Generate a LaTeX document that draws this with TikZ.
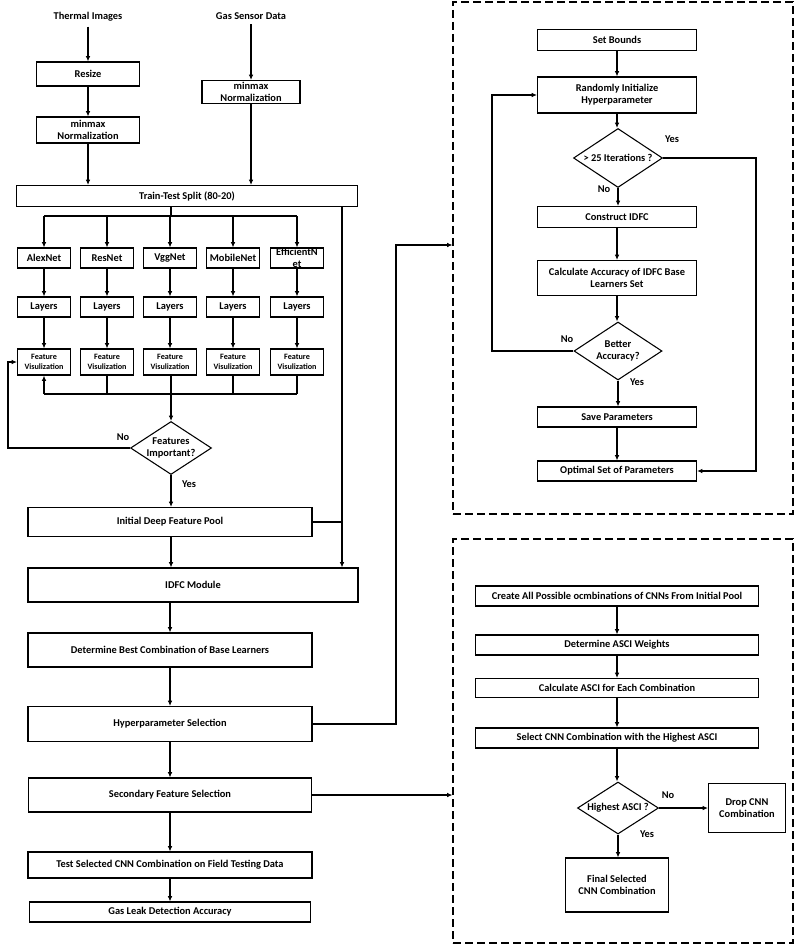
\documentclass[tikz,border=0pt]{standalone}
\usepackage{fontspec}
\setmainfont{Carlito}
\usepackage{tikz}
\usetikzlibrary{shapes,arrows.meta,positioning,calc}

\tikzset{
  box/.style={draw, line width=0.8pt, align=center, inner sep=1pt,
    font=\bfseries\fontsize{7.8}{9}\selectfont},
  smallbox/.style={box, font=\bfseries\fontsize{6.1}{7.2}\selectfont},
  decision/.style={draw, diamond, aspect=1.5, line width=0.8pt, align=center,
    inner sep=0pt, font=\bfseries\fontsize{7.8}{9}\selectfont},
  lbl/.style={font=\bfseries\fontsize{7.8}{9}\selectfont},
  arr/.style={-{Latex[length=4pt,width=3.5pt]}},
  frame/.style={draw, line width=0.8pt, dash pattern=on 6pt off 3pt},
}

\begin{document}
\begin{tikzpicture}[x=0.75pt, y=-0.75pt, line width=0.8pt]
  \useasboundingbox (0,0) rectangle (796,945);

  % Inputs and preprocessing
  \node[lbl] (thermal) at (88,17) {Thermal Images};
  \node[lbl] (gas) at (251,16) {Gas Sensor Data};
  \node[box, minimum width=77.25pt, minimum height=18pt] (resize) at (88,74) {Resize};
  \node[box, minimum width=77.25pt, minimum height=19.5pt] (normL) at (88,130) {minmax\\Normalization};
  \node[box, minimum width=73.5pt, minimum height=17.25pt] (normR) at (251,92) {minmax\\Normalization};
  \node[box, minimum width=255.75pt, minimum height=15.75pt] (split) at (187,196) {Train-Test Split (80-20)};

  % CNN columns
  \node[box, minimum width=39.75pt, minimum height=15pt] (alex) at (44,258) {AlexNet};
  \node[box, minimum width=39.75pt, minimum height=15pt] (res) at (107,258) {ResNet};
  \node[box, minimum width=39.75pt, minimum height=15pt] (vgg) at (170,258) {VggNet};
  \node[box, minimum width=39.75pt, minimum height=15pt] (mobile) at (233,258) {MobileNet};
  \node[box, minimum width=39.75pt, minimum height=15pt, inner sep=0pt,
    font=\bfseries\fontsize{7.8}{8.6}\selectfont] (eff) at (297,258) {EfficientN\\et};

  \node[box, minimum width=39.75pt, minimum height=15pt] (layA) at (44,307) {Layers};
  \node[box, minimum width=39.75pt, minimum height=15pt] (layR) at (107,307) {Layers};
  \node[box, minimum width=39.75pt, minimum height=15pt] (layV) at (170,307) {Layers};
  \node[box, minimum width=39.75pt, minimum height=15pt] (layM) at (233,307) {Layers};
  \node[box, minimum width=39.75pt, minimum height=15pt] (layE) at (297,307) {Layers};

  \node[smallbox, minimum width=39.75pt, minimum height=19.5pt] (featA) at (44,362) {Feature\\Visulization};
  \node[smallbox, minimum width=39.75pt, minimum height=19.5pt] (featR) at (107,362) {Feature\\Visulization};
  \node[smallbox, minimum width=39.75pt, minimum height=19.5pt] (featV) at (170,362) {Feature\\Visulization};
  \node[smallbox, minimum width=39.75pt, minimum height=19.5pt] (featM) at (233,362) {Feature\\Visulization};
  \node[smallbox, minimum width=39.75pt, minimum height=19.5pt] (featE) at (297,362) {Feature\\Visulization};

  \node[decision, minimum width=60.75pt, minimum height=39.75pt] (dFeat) at (171,448) {Features\\Important?};

  % Main pipeline
  \node[box, minimum width=213pt, minimum height=21.75pt] (pool) at (170,522) {Initial Deep Feature Pool};
  \node[box, minimum width=247.5pt, minimum height=25.5pt] (idfc) at (193,585) {IDFC Module};
  \node[box, minimum width=213pt, minimum height=25.5pt] (best) at (170,650) {Determine Best Combination of Base Learners};
  \node[box, minimum width=213pt, minimum height=26.25pt] (hyper) at (170,724) {Hyperparameter Selection};
  \node[box, minimum width=212.25pt, minimum height=25.5pt] (second) at (170,795) {Secondary Feature Selection};
  \node[box, minimum width=213pt, minimum height=19.5pt] (test) at (170,865) {Test Selected CNN Combination on Field Testing Data};
  \node[box, minimum width=210.75pt, minimum height=15pt] (leak) at (170,912) {Gas Leak Detection Accuracy};

  % Dashed frames
  \node[frame, minimum width=255pt, minimum height=384pt] (optFrame) at (623,258) {};
  \node[frame, minimum width=255pt, minimum height=303pt] (asciFrame) at (623,741) {};

  % Hyperparameter optimisation
  \node[box, minimum width=119.25pt, minimum height=15.75pt] (bounds) at (617,40) {Set Bounds};
  \node[box, minimum width=119.25pt, minimum height=27pt] (randinit) at (617,95) {Randomly Initialize\\Hyperparameter};
  \node[decision, minimum width=66.75pt, minimum height=44.25pt] (dIter) at (618,158) {> 25 Iterations ?};
  \node[box, minimum width=119.25pt, minimum height=15.75pt] (construct) at (617,217) {Construct IDFC};
  \node[box, minimum width=119.25pt, minimum height=26.25pt] (calc) at (617,278) {Calculate Accuracy of IDFC Base\\Learners Set};
  \node[decision, minimum width=66pt, minimum height=43.5pt] (dBetter) at (618,351) {Better\\Accuracy?};
  \node[box, minimum width=119.25pt, minimum height=15pt] (save) at (617,417) {Save Parameters};
  \node[box, minimum width=119.25pt, minimum height=15pt] (optimal) at (617,471) {Optimal Set of Parameters};

  % ASCI selection
  \node[box, minimum width=212.25pt, minimum height=15pt] (create) at (617,596) {Create All Possible ocmbinations of CNNs From Initial Pool};
  \node[box, minimum width=212.25pt, minimum height=15pt] (weights) at (617,645) {Determine ASCI Weights};
  \node[box, minimum width=212.25pt, minimum height=14.25pt] (calcA) at (617,688) {Calculate ASCI for Each Combination};
  \node[box, minimum width=212.25pt, minimum height=15pt] (select) at (617,738) {Select CNN Combination with the Highest ASCI};
  \node[decision, minimum width=60.75pt, minimum height=39pt] (dHigh) at (618,808) {Highest ASCI ?};
  \node[box, minimum width=57.75pt, minimum height=36.75pt] (drop) at (747,808) {Drop CNN\\Combination};
  \node[box, minimum width=77.25pt, minimum height=40.5pt] (final) at (617,885) {Final Selected\\CNN Combination};

  % Helper corners
  \coordinate (busT) at (171,216);
  \coordinate (busB) at (171,394);
  \coordinate (noL) at (8,448);
  \coordinate (rv) at (342,206);
  \coordinate (hk) at (396,245);
  \coordinate (yk) at (756,158);
  \coordinate (nk) at (492,351);

  % Arrows, left side
  \draw[arr] (thermal) -- (resize);
  \draw[arr] (resize) -- (normL);
  \draw[arr] (normL) -- (normL |- split.north);
  \draw[arr] (gas) -- (normR);
  \draw[arr] (normR) -- (normR |- split.north);

  \draw (split.south -| busT) -- (busT);
  \draw (busT -| alex) -- (busT -| eff);
  \draw[arr] (busT -| alex) -- (alex);
  \draw[arr] (busT -| res) -- (res);
  \draw[arr] (busT -| vgg) -- (vgg);
  \draw[arr] (busT -| mobile) -- (mobile);
  \draw[arr] (busT -| eff) -- (eff);

  \draw[arr] (alex) -- (layA);
  \draw[arr] (res) -- (layR);
  \draw[arr] (vgg) -- (layV);
  \draw[arr] (mobile) -- (layM);
  \draw[arr] (eff) -- (layE);
  \draw[arr] (layA) -- (featA);
  \draw[arr] (layR) -- (featR);
  \draw[arr] (layV) -- (featV);
  \draw[arr] (layM) -- (featM);
  \draw[arr] (layE) -- (featE);

  \draw (featR.south) -- (featR |- busB);
  \draw (featM.south) -- (featM |- busB);
  \draw (featE.south) -- (featE |- busB);
  \draw (busB -| featA) -- (busB -| featE);
  \draw[arr] (busB -| featA) -- (featA.south);
  \draw[arr] (featV.south -| busB) -- (dFeat.north);

  \draw[arr] (dFeat.west) -- (noL) |- (featA.west);
  \node[lbl] at (123,437) {No};
  \draw[arr] (dFeat.south) -- (dFeat.south |- pool.north);
  \node[lbl] at (189,484) {Yes};

  \draw[arr] (rv) -- (rv |- idfc.north);
  \draw (pool.east) -- (pool.east -| rv);
  \draw[arr] (pool.south -| busB) -- (busB |- idfc.north);
  \draw[arr] (best.north |- idfc.south) -- (best.north);
  \draw[arr] (best) -- (hyper);
  \draw[arr] (hyper) -- (second);
  \draw[arr] (second) -- (test);
  \draw[arr] (test) -- (leak);

  \draw[arr] (hyper.east) -- (hyper.east -| hk) -- (hk) -- (hk -| optFrame.west);
  \draw[arr] (second.east) -- (second.east -| asciFrame.west);

  % Arrows, optimisation frame
  \draw[arr] (bounds) -- (randinit);
  \draw[arr] (randinit) -- (randinit.south |- dIter.north);
  \draw[arr] (dIter.south) -- (dIter.south |- construct.north);
  \node[lbl] at (604,189) {No};
  \draw[arr] (dIter.east) -- (yk) |- (optimal.east);
  \node[lbl] at (672,139) {Yes};
  \draw[arr] (construct) -- (calc);
  \draw[arr] (calc.south) -- (calc.south |- dBetter.north);
  \draw[arr] (dBetter.west) -- (nk) |- (randinit.west);
  \node[lbl] at (567,339) {No};
  \draw[arr] (dBetter.south) -- (dBetter.south |- save.north);
  \node[lbl] at (637,382) {Yes};
  \draw[arr] (save) -- (optimal);

  % Arrows, ASCI frame
  \draw[arr] (create) -- (weights);
  \draw[arr] (weights) -- (calcA);
  \draw[arr] (calcA) -- (select);
  \draw[arr] (select.south) -- (select.south |- dHigh.north);
  \draw[arr] (dHigh.east) -- (drop.west);
  \node[lbl] at (668,795) {No};
  \draw[arr] (dHigh.south) -- (dHigh.south |- final.north);
  \node[lbl] at (647,834) {Yes};
\end{tikzpicture}
\end{document}
